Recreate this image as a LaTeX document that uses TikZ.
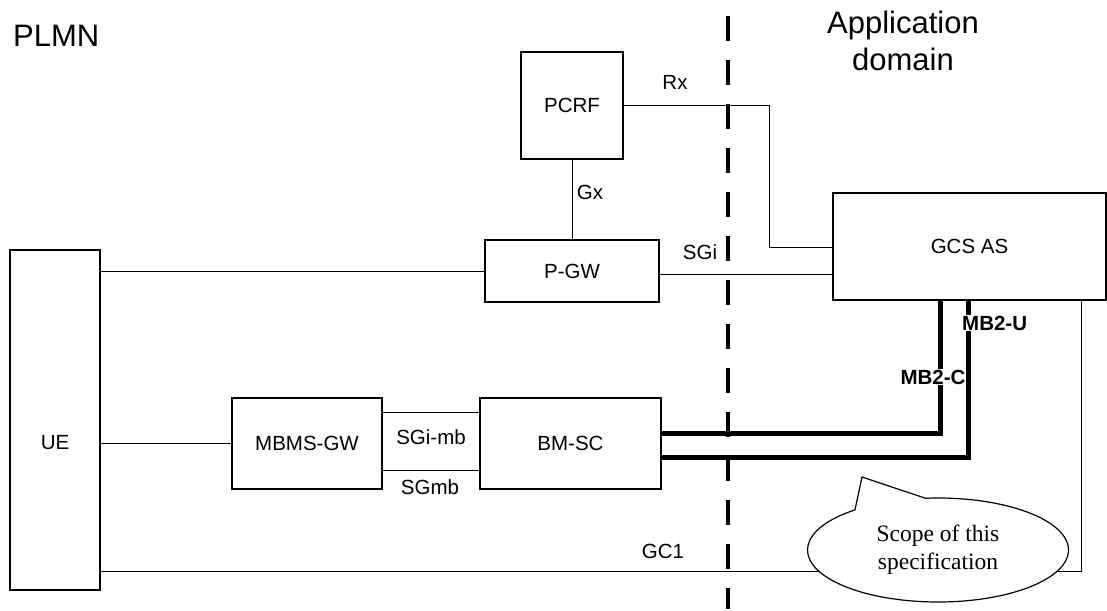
\documentclass[tikz,border=0pt]{standalone}
\usepackage{fontspec}
\setmainfont{Liberation Sans}
\newfontfamily\scopefont{Liberation Serif}
\usetikzlibrary{calc}
\usetikzlibrary{positioning}
\usetikzlibrary{shapes}
\usetikzlibrary{shapes.callouts}

\begin{document}
\begin{tikzpicture}[x=1pt,y=-1pt,
      font=\fontsize{20.5}{24}\selectfont,
      box style/.style={rectangle,draw=black,line width=1.2pt,inner
        sep=0pt,align=center},
      link style/.style={draw=black,line width=0.9pt},
      mb2 style/.style={draw=black,line width=5pt},
      lbl style/.style={inner sep=0pt},
      title style/.style={inner sep=0pt,align=center,
        font=\fontsize{31}{37}\selectfont}
      ]
      \useasboundingbox (0,0) rectangle (1107,610);

      \node[title style,anchor=base west] (plmn) at (13,46) {PLMN};
      \node[title style] (appdom) at (903,41) {Application\\domain};

      \node[box style,minimum width=90,minimum height=340,
        label={[yshift=-23pt]center:UE}] (ue) at (55,420) {};
      \node[box style,minimum width=102,minimum height=107] (pcrf) at (572,105.5) {PCRF};
      \node[box style,minimum width=174,minimum height=62] (pgw) at (572,271) {P-GW};
      \node[box style,minimum width=273,minimum height=107] (gcs) at (969.5,246.5) {GCS AS};
      \node[box style,minimum width=150,minimum height=91] (mbms) at (307,443.5) {MBMS-GW};
      \node[box style,minimum width=181,minimum height=91] (bmsc) at (570.5,443.5) {BM-SC};
      \coordinate (rxc) at (769,247);

      % domain border
      \draw[line width=3.2pt,dash pattern=on 25pt off 19pt,dash phase=28pt]
        (728,0) -- (728,609);

      \draw[link style] (pcrf) edge [] (pgw);
      \draw[link style] (pgw.west -| ue.east) -- (pgw.west);
      \draw[link style] (mbms.west -| ue.east) -- (mbms.west);
      \draw[link style] (pcrf.east) -| (rxc) -- (rxc -| gcs.west);
      \draw[link style] ([yshift=-3pt]pgw.east) -- ([yshift=-3pt]pgw.east -| gcs.west);
      \draw[link style] ([yshift=31.5pt]mbms.east) -- ([yshift=31.5pt]bmsc.west);
      \draw[link style] ([yshift=-26.5pt]mbms.east) -- ([yshift=-26.5pt]bmsc.west);
      \draw[link style] ([yshift=-151pt]ue.east) -| ([xshift=111.5pt]gcs.south);

      \draw[mb2 style] ([yshift=10.5pt]bmsc.east) -| ([xshift=-29.5pt]gcs.south);
      \draw[mb2 style] ([yshift=-13.5pt]bmsc.east) -| ([xshift=-1.5pt]gcs.south);

      \node[lbl style] (rxlbl) at (675,82) {Rx};
      \node[lbl style] (gxlbl) at (590,192) {Gx};
      \node[lbl style] (sgilbl) at (700,252) {SGi};
      \node[lbl style] (sgimblbl) at (431,437) {SGi-mb};
      \node[lbl style] (sgmblbl) at (430,487) {SGmb};
      \node[lbl style] (gc1lbl) at (663,551) {GC1};
      \node[lbl style,fill=white,inner sep=1pt,anchor=west,font=\fontsize{20.5}{24}\selectfont\bfseries]
        (mbulbl) at (961,323) {MB2-U};
      \node[lbl style,fill=white,inner sep=1pt,font=\fontsize{20.5}{24}\selectfont\bfseries]
        (mbclbl) at (933,377) {MB2-C};

      \node[ellipse callout,draw=black,line width=1.2pt,fill=white,
        minimum width=261,minimum height=104,callout pointer arc=34,
        callout absolute pointer={(862,477)},align=center,
        font=\scopefont\fontsize{23.5}{28}\selectfont] (scope) at (938,550)
        {Scope of this\\specification};
    \end{tikzpicture}
\end{document}
